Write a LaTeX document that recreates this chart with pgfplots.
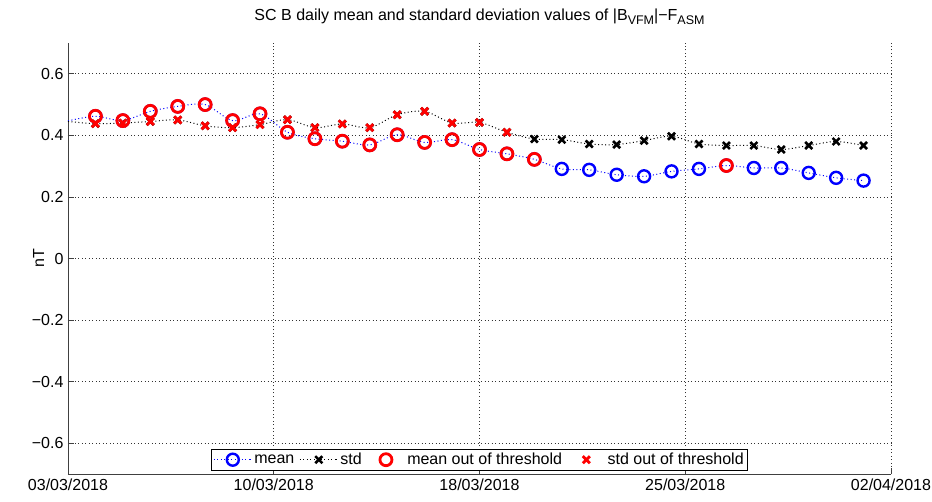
\documentclass[border=0pt]{standalone}
\usepackage{fontspec}
\setmainfont{Liberation Sans}
\usepackage{pgfplots}
\pgfplotsset{compat=1.18}

% daily values, day 0 = 03/03/2018
\pgfplotstableread{
day mean std
0  0.447 0.445
1  0.462 0.438
2  0.448 0.440
3  0.478 0.445
4  0.494 0.450
5  0.500 0.431
6  0.448 0.425
7  0.470 0.435
8  0.410 0.451
9  0.389 0.425
10 0.381 0.437
11 0.369 0.425
12 0.402 0.467
13 0.377 0.478
14 0.386 0.440
15 0.354 0.442
16 0.340 0.410
17 0.322 0.388
18 0.291 0.386
19 0.288 0.372
20 0.272 0.370
21 0.267 0.383
22 0.283 0.397
23 0.291 0.372
24 0.302 0.367
25 0.294 0.367
26 0.294 0.354
27 0.278 0.367
28 0.262 0.380
29 0.253 0.367
}\daily

\pgfplotstableread{
day mean
1  0.462
2  0.448
3  0.478
4  0.494
5  0.500
6  0.448
7  0.470
8  0.410
9  0.389
10 0.381
11 0.369
12 0.402
13 0.377
14 0.386
15 0.354
16 0.340
17 0.322
24 0.302
}\meanout

\pgfplotstableread{
day std
1  0.438
2  0.440
3  0.445
4  0.450
5  0.431
6  0.425
7  0.435
8  0.451
9  0.425
10 0.437
11 0.425
12 0.467
13 0.478
14 0.440
15 0.442
16 0.410
}\stdout

\pgfplotsset{
    wide legend/.style={
        legend image code/.code={
            \path (0pt,0pt) (38pt,0pt);
            \draw[mark repeat=2, mark phase=2, ##1]
                plot coordinates {(0pt,0pt) (19pt,0pt) (38pt,0pt)};}},
}

\begin{document}
\begin{tikzpicture}
\begin{axis}[
    name=ax,
    scale only axis,
    width=823pt, height=431pt,
    xmin=0, xmax=30,
    ymin=-0.7, ymax=0.7,
    axis lines*=left,
    axis line style={line width=0.8pt, black!75},
    tick align=inside,
    major tick length=6pt,
    tick style={black!75, line width=0.7pt},
    font=\fontsize{16}{19}\selectfont,
    xtick={0,7.5,15,22.5,30},
    xticklabels={03/03/2018,10/03/2018,18/03/2018,25/03/2018,02/04/2018},
    ytick={-0.6,-0.4,-0.2,0,0.2,0.4,0.6},
    yticklabels={−0.6,−0.4,−0.2,0,0.2,0.4,0.6},
    xticklabel style={yshift=-1pt},
    yticklabel style={xshift=-1pt},
    grid=major,
    major grid style={black!80, line width=0.6pt, dash pattern=on 1pt off 2.5pt},
    ylabel={nT},
    ylabel style={yshift=-19pt},
    title={SC B daily mean and standard deviation values of |B\raisebox{-0.5ex}{\fontsize{12.5}{13}\selectfont VFM}|−F\raisebox{-0.5ex}{\fontsize{12.5}{13}\selectfont ASM}},
    title style={yshift=9pt, font=\fontsize{16}{18}\selectfont},
    legend style={at={(0.5,0.008)}, anchor=south, legend columns=-1,
        draw=black, line width=0.6pt, fill=white,
        font=\fontsize{16}{18}\selectfont,
        inner ysep=2pt, inner xsep=2pt,
        /tikz/every odd column/.append style={column sep=0pt},
        /tikz/every even column/.append style={column sep=3pt}},
    legend cell align=left,
]
\addplot[blue, line width=1pt, dash pattern=on 1pt off 2.5pt, smooth,
    mark=o, mark phase=2, mark repeat=1,
    mark options={solid, line width=2.4pt, mark size=6pt}, wide legend]
    table[x=day, y=mean] {\daily};
\addplot[black, line width=1pt, dash pattern=on 1pt off 2.5pt, smooth,
    mark=x, mark phase=2, mark repeat=1,
    mark options={solid, line width=2.6pt, mark size=5pt}, wide legend]
    table[x=day, y=std] {\daily};
\addplot[red, only marks, mark=o,
    mark options={solid, line width=2.8pt, mark size=6pt}, wide legend]
    table[x=day, y=mean] {\meanout};
\addplot[red, only marks, mark=x,
    mark options={solid, line width=2.8pt, mark size=5pt}, wide legend]
    table[x=day, y=std] {\stdout};
\legend{mean, std, mean out of threshold, std out of threshold}
\end{axis}
\pgfresetboundingbox
\path[use as bounding box] ([xshift=-68pt,yshift=-27pt]ax.south west) rectangle ([xshift=41pt,yshift=43pt]ax.north east);
\end{tikzpicture}
\end{document}
